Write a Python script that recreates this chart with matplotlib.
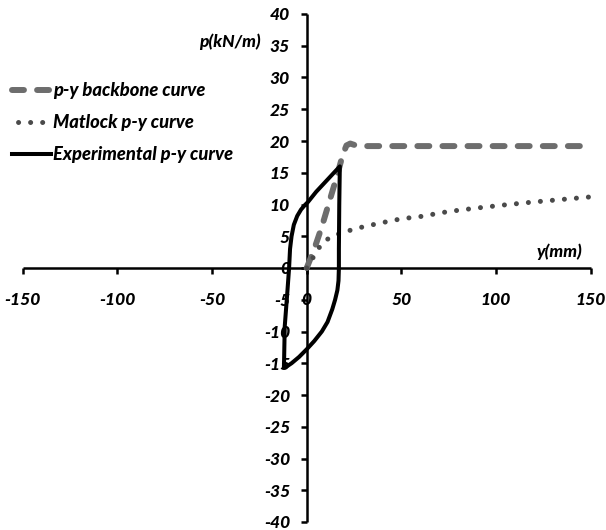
import matplotlib
matplotlib.use("Agg")
import matplotlib.pyplot as plt
from matplotlib.lines import Line2D

plt.rcParams["axes.unicode_minus"] = False

# p-y backbone curve (displacement in mm, soil reaction in kN/m)
backbone_y = [0, 4, 8, 12, 16, 19, 21, 23, 26, 30, 50, 100, 150]
backbone_p = [0, 3.0, 6.5, 10.5, 14.5, 17.8, 19.3, 19.6, 19.3, 19.2, 19.2, 19.2, 19.2]

# Matlock p-y curve
matlock_y = [0, 7.5, 12.5, 20, 30, 40, 50, 60, 75, 90, 105, 120, 135, 150]
matlock_p = [0, 3.65, 4.9, 5.7, 6.5, 7.15, 7.75, 8.1, 8.9, 9.45, 9.95, 10.4, 10.8, 11.2]

# Experimental hysteresis loop
exp_y = [-12.0, -11.6, -10.2, -9.3, -8.8, -8.0, -6.8, -5.0, -3.0, -1.0, 0.7, 5, 10, 15, 17.5,
         17.2, 17.0, 17.0, 16.8, 16.2, 15.0, 13.5, 11.0, 8.0, 4.0, 0.0, -4.0, -8.0, -10.5, -12.0]
exp_p = [-15.5, -9.2, -3.7, 0.0, 3.0, 5.0, 6.8, 8.2, 9.2, 9.9, 10.4, 12.0, 13.6, 15.2, 16.0,
         10.0, 3.0, 0.0, -2.0, -3.5, -5.0, -6.5, -8.5, -10.0, -11.5, -12.8, -14.0, -15.0, -15.5, -15.5]

x_ticks = list(range(-150, 151, 50))
y_ticks = list(range(-40, 41, 5))

series_labels = ["p-y backbone curve", "Matlock p-y curve", "Experimental p-y curve"]

FONT = "Lato"
TXT = dict(family=FONT, weight="black", style="italic", size=12.5)
LEG_TXT = dict(TXT, size=13.2)

DASH = (0, (2.0, 2.2))
DOT = (0, (0.01, 2.4))

fig = plt.figure(figsize=(6.06, 5.30), dpi=100)
ax = fig.add_axes([22.7 / 606, 8 / 530, 568 / 606, 508 / 530])

ax.plot(backbone_y, backbone_p, color="#6d6d6d", lw=4.3,
        linestyle=DASH, dash_capstyle="round", solid_capstyle="round", zorder=3)
ax.plot(matlock_y, matlock_p, color="#4a4a4a", lw=3.6,
        linestyle=DOT, dash_capstyle="round", zorder=3)
ax.plot(exp_y, exp_p, color="black", lw=2.9, solid_joinstyle="round", zorder=4)

ax.set_xlim(-150, 150)
ax.set_ylim(-40, 40)
ax.set_xticks(x_ticks)
ax.set_yticks(y_ticks)

for side in ("top", "right"):
    ax.spines[side].set_visible(False)
ax.spines["left"].set_position(("data", 0))
ax.spines["bottom"].set_position(("data", 0))
for side in ("left", "bottom"):
    ax.spines[side].set_linewidth(1.8)
    ax.spines[side].set_capstyle("butt")

ax.tick_params(axis="both", direction="out", length=4, width=1.8, color="black")
ax.tick_params(axis="x", pad=13)
ax.tick_params(axis="y", pad=8)
for lbl in ax.get_xticklabels() + ax.get_yticklabels():
    lbl.set_fontfamily(FONT)
    lbl.set_fontweight(TXT["weight"])
    lbl.set_fontstyle("italic")
    lbl.set_fontsize(TXT["size"])
ax.patch.set_visible(False)

fig.text(230 / 606, 1 - 42 / 530, "p(kN/m)", ha="center", va="center",
         fontfamily=FONT, fontweight=TXT["weight"], fontstyle="italic", fontsize=TXT["size"])
fig.text(559 / 606, 1 - 252 / 530, "y(mm)", ha="center", va="center",
         fontfamily=FONT, fontweight=TXT["weight"], fontstyle="italic", fontsize=TXT["size"])

handles = [
    Line2D([0], [0], color="#6d6d6d", lw=4.3, linestyle=DASH, dash_capstyle="round"),
    Line2D([0], [0], color="#4a4a4a", lw=3.6, linestyle=(1.2, (0.01, 2.4)), dash_capstyle="round"),
    Line2D([0], [0], color="black", lw=2.9),
]
leg = fig.legend(handles, series_labels, loc="upper left",
                 bbox_to_anchor=(12 / 606, 1 - 82 / 530), frameon=False,
                 borderpad=0, borderaxespad=0,
                 handlelength=2.1, handletextpad=0.15, labelspacing=0.82,
                 prop=LEG_TXT)

fig.savefig("out.png", dpi=100)
